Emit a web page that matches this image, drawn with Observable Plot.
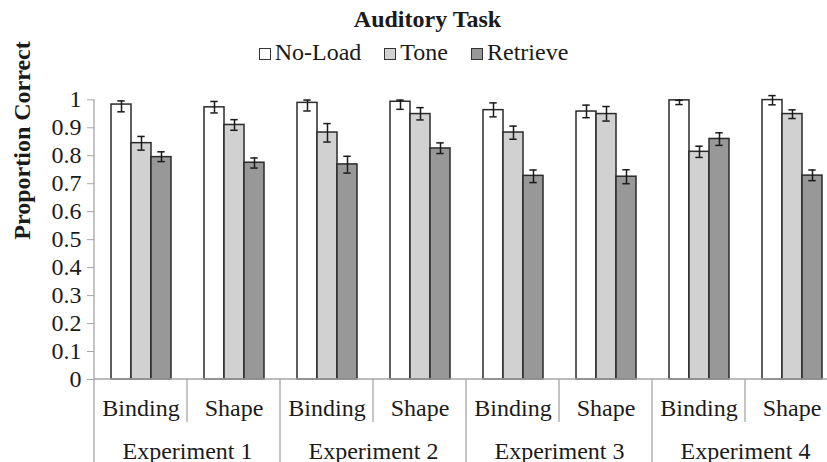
<!DOCTYPE html>
<html><head><meta charset="utf-8">
<script src="https://cdn.jsdelivr.net/npm/d3@7"></script>
<script src="https://cdn.jsdelivr.net/npm/@observablehq/plot@0.6"></script>
<style>
html,body{margin:0;padding:0;background:#fff;overflow:hidden}
#wrap{position:relative;width:827px;height:462px;overflow:hidden;font-family:"Liberation Serif",serif;color:#1a1a1a;background:#fff}
#title{position:absolute;top:7px;left:14px;width:827px;text-align:center;font-weight:bold;font-size:24px;line-height:24px}
#legend{position:absolute;top:40px;left:0;width:827px;display:flex;justify-content:center;gap:23px;font-size:24px;line-height:24px}
.sw{display:inline-block;width:12px;height:12px;border:1.3px solid #333;margin-right:4px;box-sizing:border-box}
#chart{position:absolute;top:68px;left:0}
</style></head><body>
<div id="wrap"><div id="title"></div><div id="legend"></div><div id="chart"></div></div>
<script>
const title = "Auditory Task";
const yLabel = "Proportion Correct";
const experiments = ["Experiment 1","Experiment 2","Experiment 3","Experiment 4"];
const categories = ["Binding","Shape"];
const series = ["No-Load","Tone","Retrieve"];
const noLoad     = [0.983,0.973,0.989,0.993,0.963,0.958,0.998,0.999];
const noLoadUp   = [0.013,0.021,0.010,0.006,0.026,0.023,0.000,0.016];
const noLoadDn   = [0.026,0.020,0.029,0.027,0.024,0.022,0.015,0.017];
const tone       = [0.845,0.910,0.883,0.949,0.883,0.949,0.814,0.949];
const toneUp     = [0.024,0.019,0.032,0.023,0.023,0.027,0.020,0.015];
const toneDn     = [0.025,0.019,0.034,0.021,0.024,0.025,0.020,0.016];
const retrieve   = [0.795,0.775,0.769,0.826,0.728,0.725,0.860,0.729];
const retrieveUp = [0.019,0.017,0.029,0.020,0.021,0.025,0.022,0.020];
const retrieveDn = [0.016,0.019,0.031,0.018,0.024,0.025,0.023,0.018];
const yTicks = [0,0.1,0.2,0.3,0.4,0.5,0.6,0.7,0.8,0.9,1];

const colors = ["#ffffff","#d0d1d0","#989898"];

document.getElementById("title").textContent = title;
const leg = d3.select("#legend");
series.forEach((s,i) => {
  const it = leg.append("span");
  it.append("span").attr("class","sw").style("background", colors[i]);
  it.append("span").text(s);
});

const keys = experiments.flatMap(e => categories.map(c => e + " / " + c));
const seriesData = [[noLoad,noLoadUp,noLoadDn],[tone,toneUp,toneDn],[retrieve,retrieveUp,retrieveDn]];
const rows = [];
keys.forEach((k,i) => series.forEach((s,j) => {
  const [v,u,d] = seriesData[j];
  rows.push({key:k, series:s, value:v[i], hi:v[i]+u[i], lo:v[i]-d[i]});
}));
const catRows = keys.map((k,i) => ({key:k, label:categories[i % 2]}));
const expRows = experiments.map((e,i) => ({key:keys[2*i+1], label:e}));

const ink = "#1a1a1a";
const chart = Plot.plot({
  width: 827, height: 394,
  marginLeft: 93, marginRight: -12.4, marginTop: 31.3, marginBottom: 83,
  style: {fontFamily: '"Liberation Serif", serif', fontSize: "24px", background: "transparent", color: ink, overflow: "visible"},
  fx: {domain: keys, padding: 0, axis: null},
  x: {domain: series, paddingInner: 0, paddingOuter: 0.755, axis: null},
  y: {domain: [0, 1]},
  color: {domain: series, range: colors},
  marks: [
    Plot.barY(rows, {fx:"key", x:"series", y:"value", fill:"series", stroke:"#2a2a2a", strokeWidth:1.5}),
    Plot.ruleX(rows, {fx:"key", x:"series", y1:"lo", y2:"hi", stroke:ink, strokeWidth:1.5}),
    Plot.tickY(rows, {fx:"key", x:"series", y:"lo", stroke:ink, strokeWidth:1.5, insetLeft:6.3, insetRight:6.3}),
    Plot.tickY(rows, {fx:"key", x:"series", y:"hi", stroke:ink, strokeWidth:1.5, insetLeft:6.3, insetRight:6.3}),
    Plot.axisY({ticks: yTicks, tickFormat: d3.format("~g"), tickSize: 7, tickPadding: 6, fontSize: 24, stroke: "#a6a6a6", fill: ink, label: null}),
    Plot.text(catRows, {fx:"key", text:"label", frameAnchor:"bottom", lineAnchor:"bottom", dy:36, fontSize:24, fill:ink}),
    Plot.text(expRows, {fx:"key", text:"label", frameAnchor:"bottom-left", textAnchor:"middle", lineAnchor:"bottom", dy:79, fontSize:24, fill:ink}),
    Plot.text([yLabel], {frameAnchor:"left", facetAnchor:"left", rotate:-90, dx:-71.7, fontSize:24, fontWeight:"bold", fill:ink})
  ]
});
document.getElementById("chart").appendChild(chart);

// axis lines and category dividers, placed with Plot's own scales
const svg = d3.select(chart);
const fxS = chart.scale("fx"), yS = chart.scale("y");
const y0 = yS.apply(0), yTop = yS.apply(1);
const left = fxS.apply(keys[0]), right = fxS.range[1];
const H = 394;
const g = svg.append("g").attr("stroke", "#a6a6a6").attr("stroke-width", 1.3).attr("fill", "none");
const line = (x1,y1,x2,y2) => g.append("line").attr("x1",x1).attr("y1",y1).attr("x2",x2).attr("y2",y2);
line(left, yTop, left, y0);
line(left, y0, right, y0);
experiments.forEach((e,i) => {
  const xe = fxS.apply(keys[2*i]);
  line(xe, y0, xe, H);
  const xc = fxS.apply(keys[2*i+1]);
  line(xc, y0, xc, y0 + 43);
});
line(right, y0, right, H);
</script>
</body></html>
